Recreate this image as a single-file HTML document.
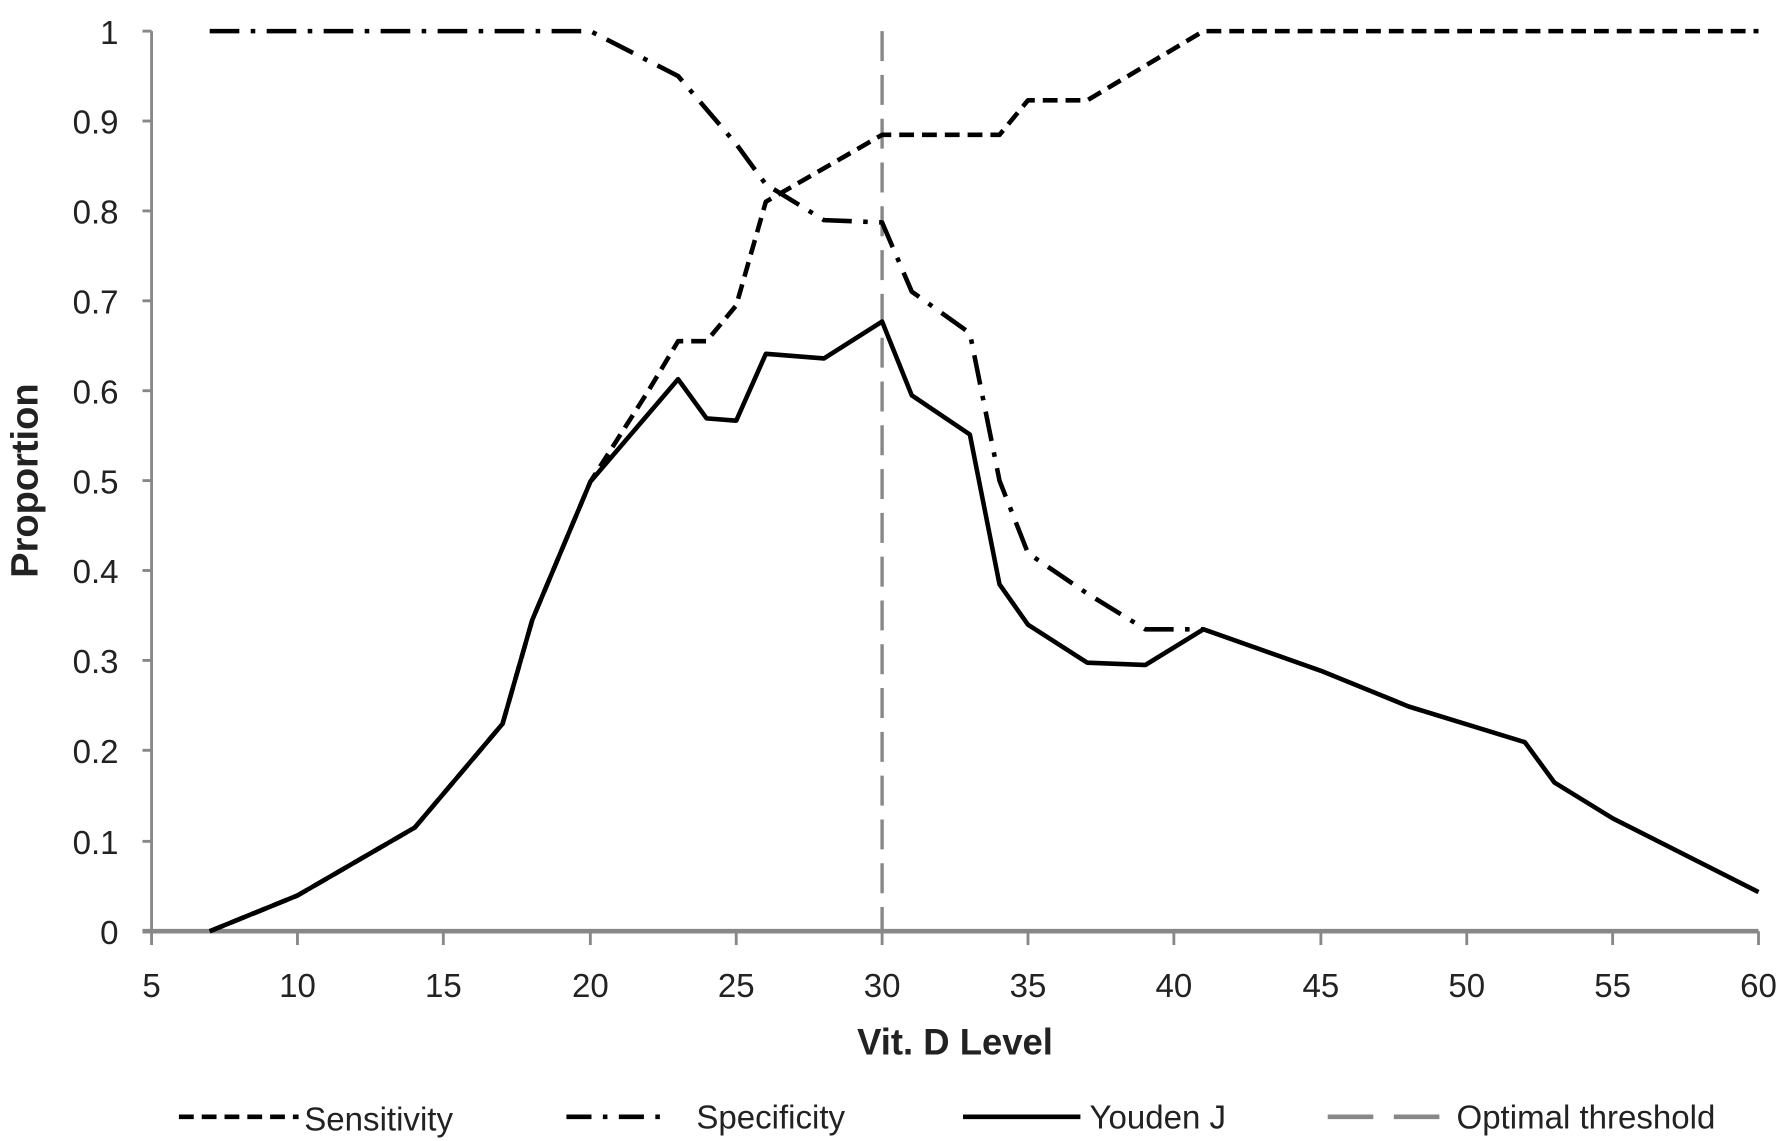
<!DOCTYPE html>
<html><head><meta charset="utf-8"><style>
html,body{margin:0;padding:0;background:#fff;}
svg{display:block;}
text{font-family:"Liberation Sans",sans-serif;fill:#222;}
</style></head><body>
<svg width="1787" height="1141" viewBox="0 0 1568 990" preserveAspectRatio="none" xmlns="http://www.w3.org/2000/svg">
<g stroke="#888" stroke-width="2.5" fill="none">
<line x1="133" y1="27" x2="133" y2="808"/>
<line x1="125" y1="808" x2="1543" y2="808" stroke-width="4"/>
<line x1="125" y1="27" x2="133" y2="27"/><line x1="125" y1="105" x2="133" y2="105"/><line x1="125" y1="183" x2="133" y2="183"/><line x1="125" y1="261" x2="133" y2="261"/><line x1="125" y1="339" x2="133" y2="339"/><line x1="125" y1="417" x2="133" y2="417"/><line x1="125" y1="495" x2="133" y2="495"/><line x1="125" y1="573" x2="133" y2="573"/><line x1="125" y1="651" x2="133" y2="651"/><line x1="125" y1="730" x2="133" y2="730"/>
<line x1="133" y1="808" x2="133" y2="820"/><line x1="261" y1="808" x2="261" y2="820"/><line x1="389" y1="808" x2="389" y2="820"/><line x1="518" y1="808" x2="518" y2="820"/><line x1="646" y1="808" x2="646" y2="820"/><line x1="774" y1="808" x2="774" y2="820"/><line x1="902" y1="808" x2="902" y2="820"/><line x1="1030" y1="808" x2="1030" y2="820"/><line x1="1159" y1="808" x2="1159" y2="820"/><line x1="1287" y1="808" x2="1287" y2="820"/><line x1="1415" y1="808" x2="1415" y2="820"/><line x1="1543" y1="808" x2="1543" y2="820"/>
</g>
<g font-size="29" text-anchor="end">
<text x="104" y="38">1</text><text x="104" y="116">0.9</text><text x="104" y="194">0.8</text><text x="104" y="272">0.7</text><text x="104" y="350">0.6</text><text x="104" y="428">0.5</text><text x="104" y="506">0.4</text><text x="104" y="584">0.3</text><text x="104" y="662">0.2</text><text x="104" y="741">0.1</text><text x="104" y="819">0</text>
</g>
<g font-size="29" text-anchor="middle">
<text x="133" y="865">5</text><text x="261" y="865">10</text><text x="389" y="865">15</text><text x="518" y="865">20</text><text x="646" y="865">25</text><text x="774" y="865">30</text><text x="902" y="865">35</text><text x="1030" y="865">40</text><text x="1159" y="865">45</text><text x="1287" y="865">50</text><text x="1415" y="865">55</text><text x="1543" y="865">60</text>
</g>
<text x="838" y="915" font-size="32" font-weight="bold" text-anchor="middle">Vit. D Level</text>
<text transform="translate(33,417) rotate(-90)" font-size="33" font-weight="bold" text-anchor="middle">Proportion</text>
<line x1="774" y1="27" x2="774" y2="808" stroke="#888" stroke-width="3" stroke-dasharray="26,12"/>
<g fill="none" stroke="#000" stroke-width="4" stroke-linejoin="round">
<polyline points="184,808 261,777 364,718 441,628 467,538 518,418 595,329 620,363 646,365 672,307 723,311 774,279 800,343 851,377 877,507 902,542 954,575 1005,577 1056,546 1159,582 1236,613 1338,644 1364,679 1415,710 1543,774"/>
<polyline stroke-dasharray="13,7" points="184,808 261,777 364,718 441,628 467,538 518,418 569,339 595,296 620,296 646,265 672,175 774,117 877,117 902,87 954,87 1056,27 1543,27"/>
<polyline stroke-dasharray="26,10,4,10" points="184,27 518,27 595,66 646,125 672,160 723,191 774,193 800,253 851,289 877,417 902,480 954,515 1005,546 1056,546"/>
</g>
<g stroke-width="4" fill="none">
<line x1="157" y1="969" x2="262" y2="969" stroke="#000" stroke-dasharray="13,7"/>
<line x1="497" y1="969" x2="585" y2="969" stroke="#000" stroke-dasharray="22,10,4,10"/>
<line x1="845" y1="969" x2="948" y2="969" stroke="#000"/>
<line x1="1165" y1="969" x2="1270" y2="969" stroke="#888" stroke-dasharray="40,18"/>
</g>
<g font-size="29">
<text x="267" y="981">Sensitivity</text><text x="611" y="979">Specificity</text><text x="956" y="979">Youden J</text><text x="1278" y="979">Optimal threshold</text>
</g>
</svg>
</body></html>
